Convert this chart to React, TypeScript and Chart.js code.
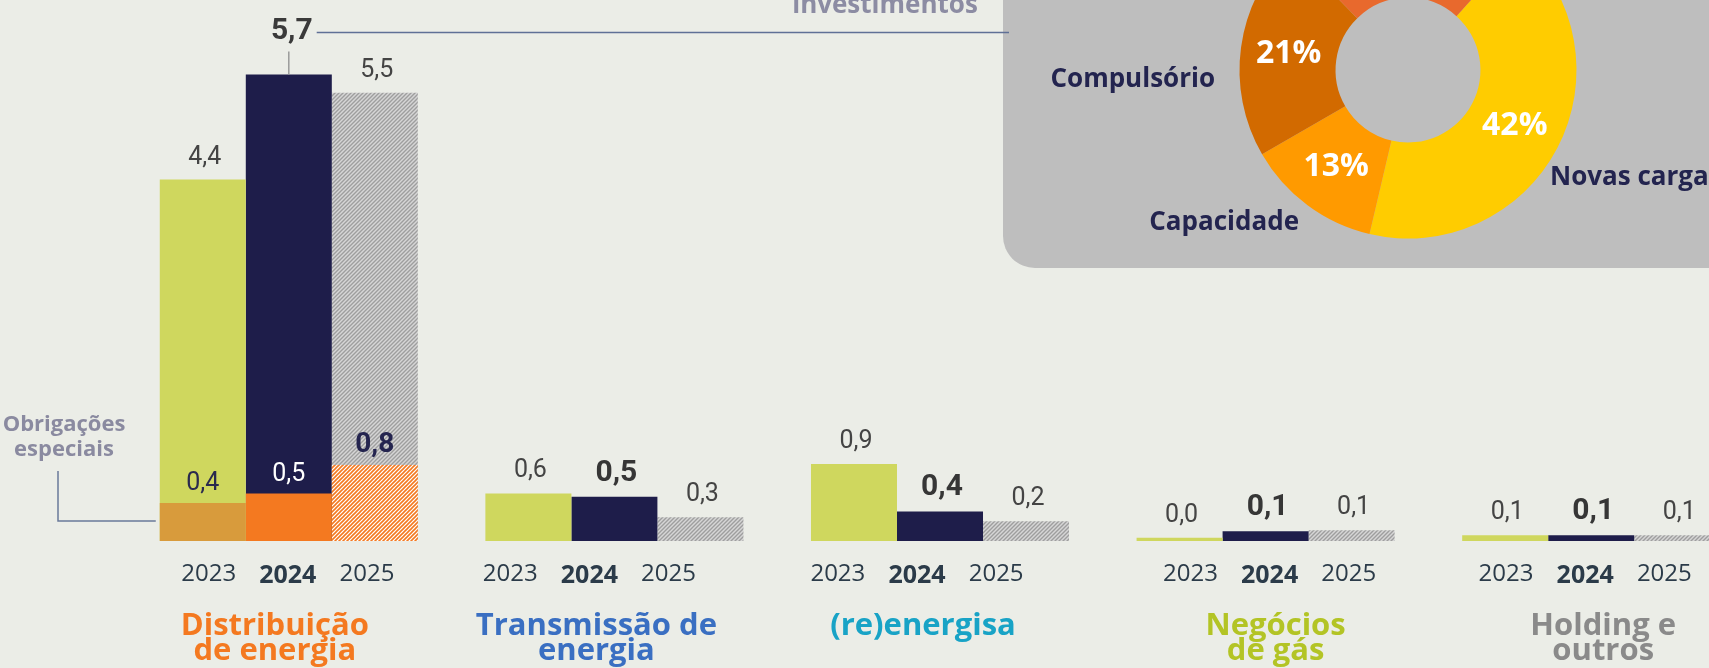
import React, { useEffect, useRef } from "react";
import { Chart, registerables } from "chart.js";

Chart.register(...registerables);

// ---------- data ----------
const categoryLines = [
  ["Distribuição", "de energia"],
  ["Transmissão de", "energia"],
  ["(re)energisa"],
  ["Negócios", "de gás"],
  ["Holding e", "outros"],
];
const years = ["2023", "2024", "2025"];
const values2023 = [4.41, 0.58, 0.94, 0.04, 0.07];
const values2024 = [5.69, 0.54, 0.36, 0.12, 0.07];
const values2025 = [5.47, 0.29, 0.24, 0.13, 0.07];
// Obrigações especiais (Distribuição de energia), per year
const obligations = [0.4, 0.5, 0.8];
const obligationsTitle = ["Obrigações", "especiais"];

const donutTitle = "investimentos";
const donutLabels = ["Novas cargas", "Capacidade", "Compulsório", "Melhorias"];
const donutValues = [42, 13, 21, 24];

// ---------- styles / layout ----------
const BG = "#EBEDE7";
const C2023 = "#CFD75E";
const C2024 = "#1E1D4A";
const ORANGE = "#F47920";
const categoryColors = ["#F47920", "#3A6FC2", "#18A3C6", "#B3C425", "#8A8A8A"];
const donutColors = ["#FFCC00", "#FF9A00", "#D26A00", "#E8692D"];
const VALUE_FONT = "Roboto";
const TEXT_FONT = "'Open Sans'";
const TITLE_DX = [-14, -18, -17, 10, 12];
const YEAR_DX = [-1, -25, -23, 4, -6];
const YEAR_SQUEEZE = 0.92;

const fmt = (v: number) => v.toFixed(1).replace(".", ",");

function makeHatch(bg: string, fg: string, size: number, lw: number) {
  const c = document.createElement("canvas");
  c.width = size;
  c.height = size;
  const g = c.getContext("2d")!;
  g.fillStyle = bg;
  g.fillRect(0, 0, size, size);
  g.strokeStyle = fg;
  g.lineWidth = lw;
  g.beginPath();
  g.moveTo(-1, size + 1);
  g.lineTo(size + 1, -1);
  g.moveTo(-1, 1);
  g.lineTo(1, -1);
  g.moveTo(size - 1, size + 1);
  g.lineTo(size + 1, size - 1);
  g.stroke();
  return g.createPattern(c, "repeat")!;
}

const barLabelPlugin = {
  id: "barLabels",
  afterDatasetsDraw(chart: any) {
    const ctx: CanvasRenderingContext2D = chart.ctx;
    const xs = chart.scales.x;
    ctx.save();
    for (let i = 0; i < 3; i++) {
      const meta = chart.getDatasetMeta(i);
      const vals = chart.data.datasets[i].data as number[];
      meta.data.forEach((bar: any, j: number) => {
        ctx.textAlign = "center";
        ctx.textBaseline = "alphabetic";
        if (i === 1 && j === 0) {
          // highlighted value with leader line towards the panel
          ctx.font = `bold 30px ${VALUE_FONT}`;
          ctx.fillStyle = "#3A3A3A";
          const base = bar.y - 36;
          const t = fmt(vals[j]);
          ctx.fillText(t, bar.x + 3, base);
          const w = ctx.measureText(t).width;
          ctx.strokeStyle = "#9A9A9A";
          ctx.lineWidth = 1.5;
          ctx.beginPath();
          ctx.moveTo(bar.x, bar.y - 23);
          ctx.lineTo(bar.x, bar.y);
          ctx.stroke();
          ctx.strokeStyle = "#5F7096";
          ctx.beginPath();
          ctx.moveTo(bar.x + 3 + w / 2 + 4, base - 6);
          ctx.lineTo(1009, base - 6);
          ctx.stroke();
        } else {
          ctx.font = i === 1 ? `bold 30px ${VALUE_FONT}` : `25px ${VALUE_FONT}`;
          ctx.fillStyle = i === 1 ? "#363636" : "#444444";
          ctx.fillText(fmt(vals[j]), bar.x + 2, bar.y - 16);
        }
        // year labels
        const cx = xs.getPixelForValue(j);
        const yx = cx + YEAR_DX[j] + (bar.x - cx) * YEAR_SQUEEZE;
        ctx.font = i === 1 ? `bold 25px ${TEXT_FONT}` : `24px ${TEXT_FONT}`;
        ctx.fillStyle = "#2B3B49";
        ctx.fillText(years[i], yx, i === 1 ? 583 : 581);
      });
    }
    // obligation labels
    const oblColors = ["#2A2A4E", "#FFFFFF", "#24244F"];
    for (let i = 0; i < 3; i++) {
      const bar = chart.getDatasetMeta(3 + i).data[0];
      ctx.textAlign = "center";
      ctx.font = i === 2 ? `bold 28px ${VALUE_FONT}` : `25px ${VALUE_FONT}`;
      ctx.fillStyle = oblColors[i];
      ctx.fillText(fmt(obligations[i]), bar.x, bar.y - 13);
    }
    // category titles
    categoryLines.forEach((lines, j) => {
      const x = xs.getPixelForValue(j) + TITLE_DX[j];
      ctx.font = `bold 31px ${TEXT_FONT}`;
      ctx.fillStyle = categoryColors[j];
      ctx.textAlign = "center";
      lines.forEach((ln, k) => ctx.fillText(ln, x, 635 + k * 25));
    });
    // Obrigações especiais callout
    ctx.font = `bold 22px ${TEXT_FONT}`;
    ctx.fillStyle = "#8A8AA0";
    ctx.textAlign = "center";
    obligationsTitle.forEach((ln, k) => ctx.fillText(ln, 64, 431 + k * 25));
    const b0 = chart.getDatasetMeta(3).data[0];
    ctx.strokeStyle = "#6A7A9A";
    ctx.lineWidth = 1.5;
    ctx.beginPath();
    ctx.moveTo(58, 471);
    ctx.lineTo(58, 521);
    ctx.lineTo(b0.x - b0.width / 2 - 4, 521);
    ctx.stroke();
    // panel title fragment
    ctx.font = `bold 26px ${TEXT_FONT}`;
    ctx.fillStyle = "#8C8CA3";
    ctx.fillText(donutTitle, 885, 13);
    ctx.restore();
  },
};

const donutAnchors = [
  { dx: 142, dy: 108, align: "left" },
  { dx: -109, dy: 153, align: "right" },
  { dx: -193, dy: 10, align: "right" },
  { dx: 0, dy: -200, align: "center" },
];

const donutLabelPlugin = {
  id: "donutLabels",
  afterDatasetsDraw(chart: any) {
    const ctx: CanvasRenderingContext2D = chart.ctx;
    const meta = chart.getDatasetMeta(0);
    ctx.save();
    ctx.textBaseline = "middle";
    meta.data.forEach((arc: any, i: number) => {
      const p = arc.getCenterPoint();
      ctx.font = `bold 32px ${TEXT_FONT}`;
      ctx.fillStyle = "#FFFFFF";
      ctx.textAlign = "center";
      ctx.fillText(donutValues[i] + "%", p.x, p.y);
      const a = donutAnchors[i];
      ctx.font = `bold 26px ${TEXT_FONT}`;
      ctx.fillStyle = "#23244F";
      ctx.textAlign = a.align as CanvasTextAlign;
      ctx.fillText(donutLabels[i], arc.x + a.dx, arc.y + a.dy);
    });
    ctx.restore();
  },
};

export default function App() {
  const barRef = useRef<HTMLCanvasElement>(null);
  const donutRef = useRef<HTMLCanvasElement>(null);

  useEffect(() => {
    const grayHatch = makeHatch("#D6D6D6", "#9E9E9E", 4, 1.4);
    const orangeHatch = makeHatch("#FFFFFF", ORANGE, 4, 1.6);
    const cats = categoryLines.map((l) => l.join(" "));
    const oblData = (k: number) => cats.map((_, j) => (j === 0 ? obligations[k] : null));
    const common = { categoryPercentage: 0.7925, barPercentage: 1, borderWidth: 0 };

    const bar = new Chart(barRef.current!, {
      type: "bar",
      data: {
        labels: cats,
        datasets: [
          { label: years[0], data: values2023, backgroundColor: C2023, order: 2, stack: "s0", ...common },
          { label: years[1], data: values2024, backgroundColor: C2024, order: 2, stack: "s1", ...common },
          { label: years[2], data: values2025, backgroundColor: grayHatch, order: 2, stack: "s2", ...common },
          { label: "Obrig. " + years[0], data: oblData(0), backgroundColor: "#D89B3C", order: 1, stack: "s0", yAxisID: "y2", ...common },
          { label: "Obrig. " + years[1], data: oblData(1), backgroundColor: ORANGE, order: 1, stack: "s1", yAxisID: "y2", ...common },
          { label: "Obrig. " + years[2], data: oblData(2), backgroundColor: orangeHatch, order: 1, stack: "s2", yAxisID: "y2", ...common },
        ] as any,
      },
      options: {
        responsive: false,
        animation: false,
        devicePixelRatio: 1,
        layout: { padding: { left: 126, right: 6, top: 0, bottom: 127 } },
        plugins: { legend: { display: false }, tooltip: { enabled: false } },
        scales: {
          x: { display: false, offset: true, grid: { display: false } },
          y: { display: false, min: 0, max: 6.6, stacked: false },
          y2: { display: false, min: 0, max: 5.695, stacked: false },
        },
      } as any,
      plugins: [barLabelPlugin],
    });

    const donut = new Chart(donutRef.current!, {
      type: "doughnut",
      data: {
        labels: donutLabels,
        datasets: [{ data: donutValues, backgroundColor: donutColors, borderWidth: 0 }],
      },
      options: {
        responsive: false,
        animation: false,
        devicePixelRatio: 1,
        rotation: 42,
        cutout: "43%",
        layout: { padding: { left: 236.5, right: 183.5, top: 101.5, bottom: 29.5 } },
        plugins: { legend: { display: false }, tooltip: { enabled: false } },
      } as any,
      plugins: [donutLabelPlugin],
    });

    return () => {
      bar.destroy();
      donut.destroy();
    };
  }, []);

  return (
    <div
      style={{
        position: "fixed",
        left: 0,
        top: 0,
        width: 1709,
        height: 668,
        overflow: "hidden",
        background: BG,
      }}
    >
      <div
        style={{
          position: "absolute",
          left: 1003,
          top: -60,
          width: 800,
          height: 328,
          background: "#BEBEBE",
          borderRadius: 32,
        }}
      />
      <canvas
        ref={donutRef}
        width={757}
        height={468}
        style={{ position: "absolute", left: 1003, top: -200 }}
      />
      <canvas
        ref={barRef}
        width={1760}
        height={668}
        style={{ position: "absolute", left: 0, top: 0 }}
      />
    </div>
  );
}
